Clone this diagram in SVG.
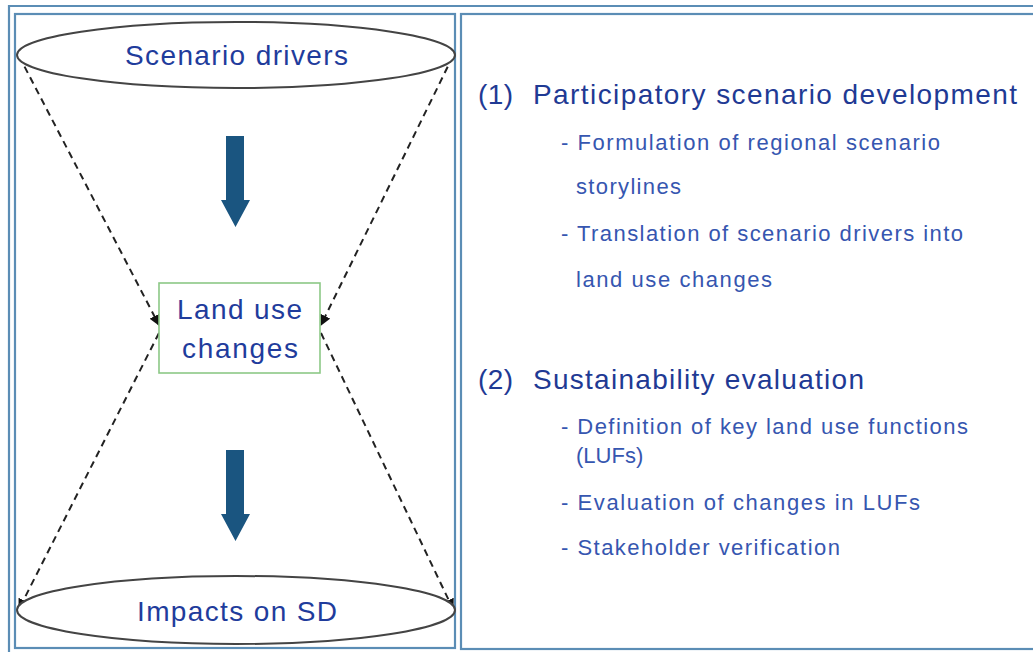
<svg xmlns="http://www.w3.org/2000/svg" width="1033" height="652" viewBox="0 0 1033 652">
<defs>
<style>
.frame{fill:none;stroke:#5b8db5;stroke-width:2.2}
.ell{fill:#fff;stroke:#444;stroke-width:2}
.lbl{font-family:"Liberation Sans",Arial,sans-serif;font-size:28px;fill:#1f3c9c;text-anchor:middle}
.h{font-family:"Liberation Sans",Arial,sans-serif;font-size:28px;fill:#1f3a94}
.s{font-family:"Liberation Sans",Arial,sans-serif;font-size:22px;fill:#3656b0}
.dash{fill:none;stroke:#222;stroke-width:2;stroke-dasharray:7 5}
.big{fill:#1a5580}
</style>
<marker id="ah" viewBox="0 0 10 10" refX="9" refY="5" markerWidth="11" markerHeight="11" orient="auto" markerUnits="userSpaceOnUse">
<path d="M0,0 L10,5 L0,10 z" fill="#111"/>
</marker>
</defs>
<rect x="0" y="0" width="1033" height="652" fill="#fff"/>
<g id="frames">
<path class="frame" d="M9,652 V6 H1033"/>
<rect class="frame" x="15" y="14" width="440" height="634"/>
<rect class="frame" x="461" y="14" width="580" height="635"/>
</g>
<g id="connectors">
<line class="dash" x1="19" y1="56" x2="159" y2="325" marker-end="url(#ah)"/>
<line class="dash" x1="453" y1="56" x2="321" y2="325" marker-end="url(#ah)"/>
<line class="dash" x1="159" y1="333" x2="19" y2="609" marker-end="url(#ah)"/>
<line class="dash" x1="321" y1="333" x2="453" y2="609" marker-end="url(#ah)"/>
<path class="big" d="M226,136 H244 V200 H250 L235.5,227 L221,200 H226 Z"/>
<path class="big" d="M226,450 H244 V514 H250 L235.5,541 L221,514 H226 Z"/>
</g>
<g id="scenario-drivers">
<ellipse class="ell" cx="236" cy="55" rx="219" ry="33"/>
<text class="lbl" x="236.5" y="65" textLength="223">Scenario drivers</text>
</g>
<g id="land-use-changes">
<rect x="159" y="283" width="161" height="90" fill="#fff" stroke="#8cc886" stroke-width="1.6"/>
<text class="lbl" x="239.5" y="319" textLength="125">Land use</text>
<text class="lbl" x="240" y="358" textLength="116">changes</text>
</g>
<g id="impacts">
<ellipse class="ell" cx="236" cy="610" rx="219" ry="34"/>
<text class="lbl" x="237" y="621" textLength="200">Impacts on SD</text>
</g>
<g id="text-panel">
<text class="h" x="478" y="104" textLength="35">(1)</text>
<text class="h" x="533" y="104" textLength="484">Participatory scenario development</text>
<text class="s" x="561" y="150" textLength="379">- Formulation of regional scenario</text>
<text class="s" x="576" y="194" textLength="105">storylines</text>
<text class="s" x="561" y="241" textLength="402">- Translation of scenario drivers into</text>
<text class="s" x="576" y="287" textLength="196">land use changes</text>
<text class="h" x="478" y="389" textLength="35">(2)</text>
<text class="h" x="533" y="389" textLength="331">Sustainability evaluation</text>
<text class="s" x="561" y="434" textLength="407">- Definition of key land use functions</text>
<text class="s" x="576" y="463">(LUFs)</text>
<text class="s" x="561" y="510" textLength="359">- Evaluation of changes in LUFs</text>
<text class="s" x="561" y="555" textLength="279">- Stakeholder verification</text>
</g>
</svg>
